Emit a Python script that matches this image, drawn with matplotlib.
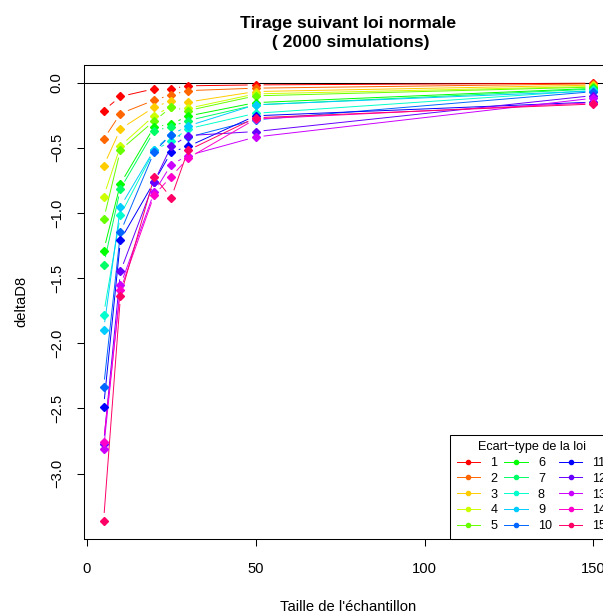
import numpy as np
import matplotlib
matplotlib.use("Agg")
import matplotlib.pyplot as plt
from matplotlib.colors import hsv_to_rgb
from matplotlib.lines import Line2D

plt.rcParams['font.family'] = ['Liberation Sans', 'DejaVu Sans']

# taille de l'echantillon
sizes = [5, 10, 20, 25, 30, 50, 150]

# deltaD8 pour chaque ecart-type (1 a 15)
sd1 = [-0.215, -0.107, -0.048, -0.048, -0.025, -0.018, -0.005]
sd2 = [-0.435, -0.238, -0.135, -0.094, -0.062, -0.043, -0.010]
sd3 = [-0.640, -0.356, -0.189, -0.140, -0.150, -0.069, -0.020]
sd4 = [-0.876, -0.486, -0.253, -0.184, -0.198, -0.087, -0.030]
sd5 = [-1.050, -0.517, -0.294, -0.190, -0.215, -0.102, -0.035]
sd6 = [-1.290, -0.776, -0.338, -0.319, -0.257, -0.154, -0.045]
sd7 = [-1.400, -0.814, -0.371, -0.338, -0.292, -0.172, -0.050]
sd8 = [-1.780, -1.016, -0.520, -0.450, -0.355, -0.236, -0.060]
sd9 = [-1.900, -0.952, -0.515, -0.400, -0.333, -0.170, -0.065]
sd10 = [-2.340, -1.147, -0.530, -0.400, -0.420, -0.286, -0.070]
sd11 = [-2.490, -1.208, -0.760, -0.535, -0.490, -0.255, -0.150]
sd12 = [-2.770, -1.449, -0.760, -0.490, -0.407, -0.376, -0.100]
sd13 = [-2.815, -1.555, -0.840, -0.630, -0.560, -0.418, -0.120]
sd14 = [-2.755, -1.590, -0.862, -0.722, -0.580, -0.280, -0.155]
sd15 = [-3.364, -1.638, -0.722, -0.885, -0.520, -0.270, -0.165]

series = [sd1, sd2, sd3, sd4, sd5, sd6, sd7, sd8, sd9, sd10,
          sd11, sd12, sd13, sd14, sd15]
labels = [str(i) for i in range(1, 16)]

# rainbow(15) comme dans R
n = len(series)
colors = [hsv_to_rgb((i / n, 1, 1)) for i in range(n)]

fig = plt.figure(figsize=(6.03, 6.15), dpi=100)
ax = fig.add_axes([84 / 603, 76.5 / 615, 529 / 603, 473.5 / 615])
ax.set_xlim(-0.8, 155.8)
ax.set_ylim(-3.4987, 0.1346)

ax.axhline(0, color="black", lw=0.75, zorder=1)


def gapped_lines(ax, xs, ys, gap_px, **kw):
    # comme type="b" de R : segments coupes autour des points
    pts = ax.transData.transform(np.column_stack([xs, ys]))
    inv = ax.transData.inverted()
    for p0, p1 in zip(pts[:-1], pts[1:]):
        d = p1 - p0
        L = np.hypot(d[0], d[1])
        if L <= 2 * gap_px:
            continue
        u = d / L
        a = inv.transform(p0 + u * gap_px)
        b = inv.transform(p1 - u * gap_px)
        ax.plot([a[0], b[0]], [a[1], b[1]], **kw)


for ys, c in zip(series, colors):
    gapped_lines(ax, sizes, ys, 8.5, color=c, lw=0.7, zorder=2)
    ax.plot(sizes, ys, ls="none", marker="D", ms=3.6, color=c, mec=c, zorder=3)

ax.set_xticks([0, 50, 100, 150])
ax.set_yticks([0.0, -0.5, -1.0, -1.5, -2.0, -2.5, -3.0])
ax.set_yticklabels(["0.0", "\u22120.5", "\u22121.0", "\u22121.5", "\u22122.0", "\u22122.5", "\u22123.0"],
                   rotation=90, va="center")
ax.tick_params(length=5, width=0.75, labelsize=10.6)
ax.tick_params(axis="x", pad=12)
ax.tick_params(axis="y", pad=9.5)
for s in ax.spines.values():
    s.set_linewidth(0.75)

ax.set_xlabel("Taille de l'échantillon", fontsize=10.6, labelpad=17)
ax.set_ylabel("deltaD8", fontsize=10.6, labelpad=15.5)
ax.set_title("Tirage suivant loi normale\n ( 2000 simulations)", fontsize=12.6,
             fontweight="bold", pad=13, linespacing=1.35)

handles = [Line2D([0], [0], color=c, lw=0.7, marker="o", ms=3) for c in colors]
leg = ax.legend(handles, labels, loc="lower right", bbox_to_anchor=(1, 0),
                borderaxespad=0, ncol=3, title="Ecart\u2212type de la loi",
                fontsize=9.1, title_fontsize=9.1, fancybox=False,
                edgecolor="black", framealpha=1, handlelength=1.86,
                handletextpad=0.8, columnspacing=0.55, labelspacing=0.3,
                borderpad=0.5)
leg.get_frame().set_linewidth(0.75)

fig.savefig("out.png", dpi=100)
